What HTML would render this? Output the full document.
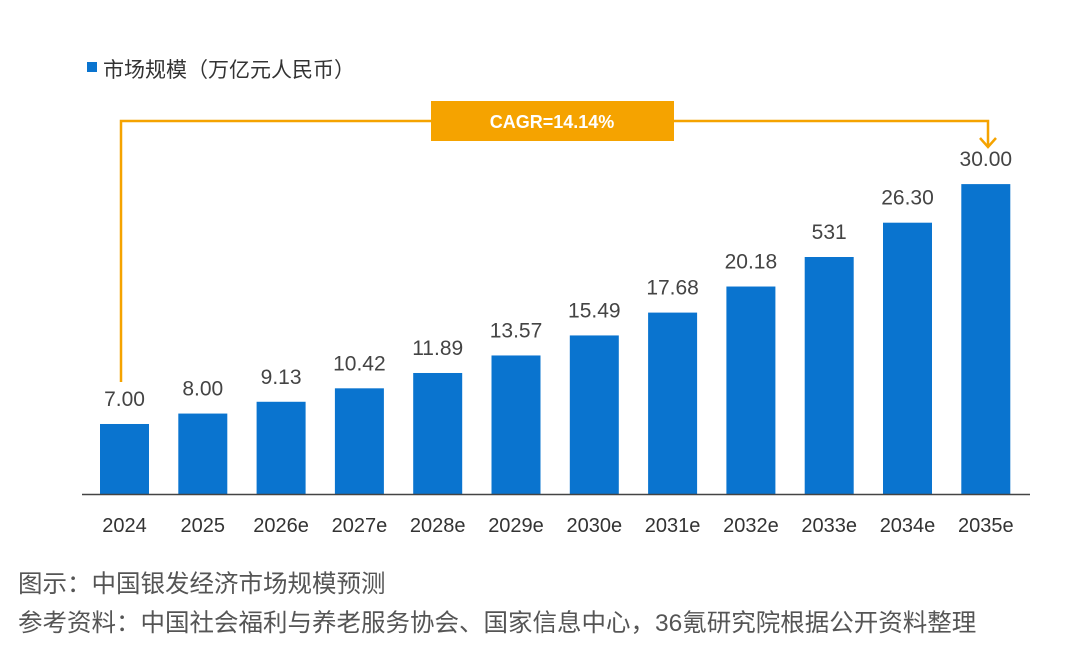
<!DOCTYPE html>
<html><head><meta charset="utf-8"><style>
body{margin:0;background:#fff;width:1080px;height:651px;overflow:hidden;font-family:"Liberation Sans","Noto Sans CJK SC",sans-serif}
svg text{font-family:"Liberation Sans","Noto Sans CJK SC",sans-serif}
</style></head><body>
<svg id="chart" width="1080" height="651">
<rect x="87" y="62" width="10" height="10" fill="#0A74CF"/>
<text x="103" y="77" font-size="21" fill="#333">市场规模（万亿元人民币）</text>
<g id="bars"></g>
<line x1="82" y1="494.5" x2="1030" y2="494.5" stroke="#444" stroke-width="1.5"/>
<polyline points="121,382 121,121 988,121 988,146" fill="none" stroke="#F5A300" stroke-width="2.5"/>
<polyline points="980,138 988,147 996,138" fill="none" stroke="#F5A300" stroke-width="2.5"/>
<rect x="431" y="101" width="243" height="40" fill="#F5A300"/>
<text x="552" y="128" font-size="18" font-weight="bold" fill="#fff" text-anchor="middle">CAGR=14.14%</text>
<text x="18" y="592" font-size="24.5" fill="#555">图示：中国银发经济市场规模预测</text>
<text x="18" y="631" font-size="24.5" fill="#555">参考资料：中国社会福利与养老服务协会、国家信息中心，36氪研究院根据公开资料整理</text>
</svg>
<script>
const categories=["2024","2025","2026e","2027e","2028e","2029e","2030e","2031e","2032e","2033e","2034e","2035e"];
const values=[7.00,8.00,9.13,10.42,11.89,13.57,15.49,17.68,20.18,23.01,26.30,30.00];
const valueLabels=["7.00","8.00","9.13","10.42","11.89","13.57","15.49","17.68","20.18","531","26.30","30.00"];
const base=494, x0=100, step=78.3, bw=49;
function xPos(i){return x0+i*step;}
function yPos(v){return base-(v*10.43-3);}
const g=document.getElementById('bars');
const NS="http://www.w3.org/2000/svg";
categories.forEach((c,i)=>{
  const r=document.createElementNS(NS,'rect');
  r.setAttribute('x',xPos(i));r.setAttribute('y',yPos(values[i]));
  r.setAttribute('width',bw);r.setAttribute('height',base-yPos(values[i]));
  r.setAttribute('fill','#0A74CF');
  
  
  g.appendChild(r);
  const t=document.createElementNS(NS,'text');
  t.setAttribute('x',xPos(i)+bw/2);t.setAttribute('y',yPos(values[i])-18);
  t.setAttribute('font-size','21');t.setAttribute('fill','#444');t.setAttribute('text-anchor','middle');
  t.textContent=valueLabels[i];
  
  
  g.appendChild(t);
  const l=document.createElementNS(NS,'text');
  l.setAttribute('x',xPos(i)+bw/2);l.setAttribute('y',532);
  l.setAttribute('font-size','20');l.setAttribute('fill','#333');l.setAttribute('text-anchor','middle');
  l.textContent=c;
  
  
  g.appendChild(l);
});
</script>
</body></html>
